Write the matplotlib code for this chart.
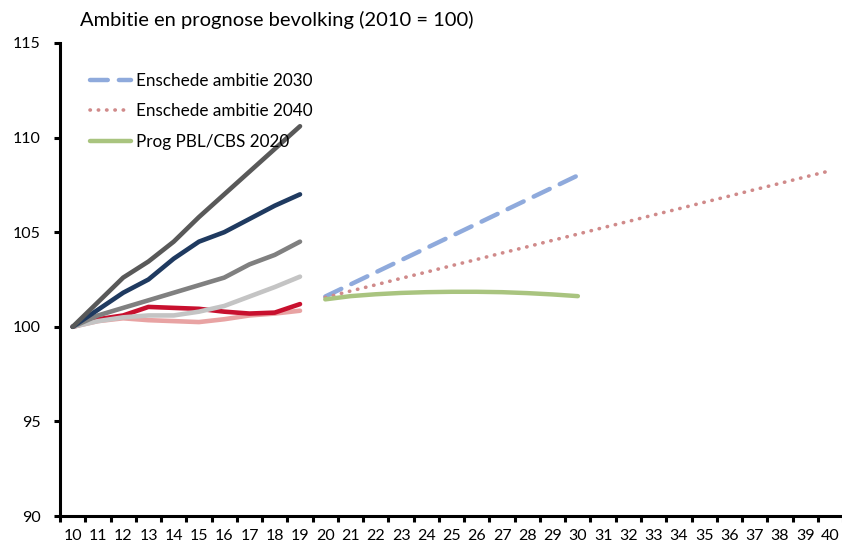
import numpy as np
import matplotlib.pyplot as plt
from matplotlib.ticker import FixedLocator

plt.rcParams['font.family'] = ['Lato', 'DejaVu Sans']

years = list(range(10, 41))
hist_years = list(range(10, 20))

# historical series 2010-2019 (2010 = 100)
dark_gray = [100, 101.3, 102.6, 103.45, 104.5, 105.8, 107.0, 108.2, 109.4, 110.6]
navy = [100, 100.9, 101.8, 102.5, 103.6, 104.5, 105.0, 105.7, 106.4, 107.0]
mid_gray = [100, 100.6, 101.0, 101.4, 101.8, 102.2, 102.6, 103.3, 103.8, 104.5]
light_gray = [100, 100.3, 100.5, 100.6, 100.6, 100.8, 101.1, 101.6, 102.1, 102.65]
red = [100, 100.4, 100.6, 101.05, 101.0, 100.95, 100.8, 100.7, 100.75, 101.2]
pink = [100, 100.3, 100.45, 100.35, 100.3, 100.25, 100.4, 100.6, 100.7, 100.85]

# ambition / forecast series
amb2030_years = list(range(20, 31))
amb2030 = [101.6, 102.24, 102.88, 103.52, 104.16, 104.8, 105.44, 106.08, 106.72, 107.36, 108.0]
amb2040_years = list(range(20, 41))
amb2040 = [101.55, 101.89, 102.22, 102.56, 102.89, 103.23, 103.56, 103.90, 104.23, 104.57, 104.90,
           105.24, 105.57, 105.91, 106.24, 106.58, 106.91, 107.25, 107.58, 107.92, 108.25]
prog_years = list(range(20, 31))
prog = [101.45, 101.62, 101.72, 101.79, 101.83, 101.85, 101.85, 101.83, 101.78, 101.71, 101.62]

fig = plt.figure(figsize=(8.42, 5.49), dpi=100)
ax = fig.add_axes([0.0713, 0.0601, 0.93, 0.8616])

def pos(ys):
    return [years.index(y) for y in ys]

lw = 3.3
ax.plot(pos(hist_years), pink, color='#E8A3A3', lw=lw, solid_capstyle='round')
ax.plot(pos(hist_years), red, color='#C8102E', lw=lw, solid_capstyle='round')
ax.plot(pos(hist_years), light_gray, color='#C4C4C4', lw=lw, solid_capstyle='round')
ax.plot(pos(hist_years), mid_gray, color='#808080', lw=lw, solid_capstyle='round')
ax.plot(pos(hist_years), navy, color='#1F3A60', lw=lw, solid_capstyle='round')
ax.plot(pos(hist_years), dark_gray, color='#595959', lw=lw, solid_capstyle='round')

ax.plot(pos(amb2030_years), amb2030, color='#8FAADC', lw=3.2, ls=(0, (4, 2.5)),
        dash_capstyle='round', label='Enschede ambitie 2030')
ax.plot(pos(amb2040_years), amb2040, color='#D08A8A', lw=2.6, ls=(0, (0.1, 2.2)),
        dash_capstyle='round', label='Enschede ambitie 2040')
ax.plot(pos(prog_years), prog, color='#A9C47F', lw=3.2, solid_capstyle='round',
        label='Prog PBL/CBS 2020')

ax.set_xlim(-0.5, len(years) - 0.5)
ax.set_ylim(90, 115)
ax.set_yticks([90, 95, 100, 105, 110, 115])
ax.set_xticks(range(len(years)))
ax.set_xticklabels([str(y) for y in years])
ax.xaxis.set_minor_locator(FixedLocator(np.arange(-0.5, len(years), 1)))

for s in ['top', 'right']:
    ax.spines[s].set_visible(False)
for s in ['left', 'bottom']:
    ax.spines[s].set_linewidth(2.2)

ax.tick_params(axis='x', which='major', length=0, pad=9, labelsize=11.5)
ax.tick_params(axis='x', which='minor', length=4, width=2.2, direction='out')
ax.tick_params(axis='y', length=4, width=2.2, direction='out', pad=10, labelsize=11.5)

fig.text(0.095, 0.963, 'Ambitie en prognose bevolking (2010 = 100)', fontsize=14.5, va='center', ha='left')

ax.legend(loc='upper left', bbox_to_anchor=(0.03, 0.952), frameon=False, fontsize=12.3,
          handlelength=2.4, handletextpad=0.3, labelspacing=0.85, borderaxespad=0)

fig.savefig('out.png', dpi=100)
